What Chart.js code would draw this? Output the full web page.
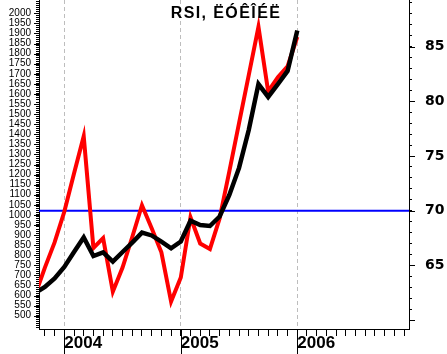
<!DOCTYPE html>
<html><head><meta charset="utf-8">
<script src="https://cdn.jsdelivr.net/npm/chart.js@4.4.0/dist/chart.umd.min.js"></script>
<style>html,body{margin:0;padding:0;background:#fff;overflow:hidden}</style>
</head><body>
<canvas id="c" width="447" height="354"></canvas>
<script>
const titleText = 'RSI, ËÓÊÎÉË';
// month index: 0 = Jan 2004
const months = [-3,-2,-1,0,1,2,3,4,5,6,7,8,9,10,11,12,13,14,15,16,17,18,19,20,21,22,23,24];
const priceSeries = [613,643,685,742,816,888,796,814,768,816,863,912,898,867,834,868,971,950,945,992,1099,1233,1421,1649,1585,1649,1714,1915];
const rsiSeries = [62.3,64.8,67.1,69.9,73.4,76.8,66.6,67.5,62.6,64.8,67.6,70.5,68.4,66.2,61.7,63.9,69.4,67.0,66.5,69.3,73.6,78.0,82.4,86.8,80.9,82.2,83.2,85.9];
const overboughtLevel = 70;
const yearTicks = [0,12,24];
const yearLabels = ['2004','2005','2006'];
const priceLabelValues = [500,550,600,650,700,750,800,850,900,950,1000,1050,1100,1150,1200,1250,1300,1350,1400,1450,1500,1550,1600,1650,1700,1750,1800,1850,1900,1950,2000];
const rsiLabelValues = [65,70,75,80,85];

const X_MIN = -2.606, X_MAX = 35.507;
const L_MIN = 434, L_MAX = 2066;
const R_MIN = 59.19, R_MAX = 89.26;

const extras = {
  id: 'extras',
  afterDraw(chart) {
    const {ctx, chartArea, scales} = chart;
    ctx.save();
    ctx.strokeStyle = '#000';
    ctx.lineWidth = 1;
    ctx.beginPath();
    yearTicks.forEach(v => {
      const px = Math.round(scales.x.getPixelForValue(v)) + 0.5;
      ctx.moveTo(px, chartArea.bottom);
      ctx.lineTo(px, chart.height);
    });
    priceLabelValues.forEach(v => {
      const py = Math.round(scales.yL.getPixelForValue(v)) + 0.5;
      ctx.moveTo(chartArea.left - 5, py);
      ctx.lineTo(chartArea.left, py);
    });
    [60,65,70,75,80,85].forEach(v => {
      const py = Math.round(scales.yR.getPixelForValue(v)) + 0.5;
      ctx.moveTo(chartArea.right, py);
      ctx.lineTo(chartArea.right + 6, py);
    });
    ctx.stroke();
    ctx.fillStyle = '#000';
    ctx.font = 'bold 16px "Liberation Sans", Arial, sans-serif';
    try { ctx.letterSpacing = '1.4px'; } catch(e) {}
    ctx.textAlign = 'center';
    ctx.textBaseline = 'alphabetic';
    ctx.fillText(titleText, 226, 18);
    ctx.restore();
  }
};

const rangeTicks = (a, b, s) => { const t = []; for (let v = a; v <= b + 1e-9; v += s) t.push({value: v}); return t; };

new Chart(document.getElementById('c'), {
  type: 'line',
  data: {
    datasets: [
      {
        label: 'price', data: priceSeries.map((v, i) => ({x: months[i], y: v})),
        yAxisID: 'yL', borderColor: '#000000', borderWidth: 4.5, pointRadius: 0, tension: 0, clip: 0, order: 0
      },
      {
        label: 'rsi', data: rsiSeries.map((v, i) => ({x: months[i], y: v})),
        yAxisID: 'yR', borderColor: '#ff0000', borderWidth: 4, pointRadius: 0, tension: 0, clip: 0, order: 1
      },
      {
        label: 'level', data: [{x: X_MIN, y: overboughtLevel}, {x: X_MAX, y: overboughtLevel}],
        yAxisID: 'yR', borderColor: '#0000ff', borderWidth: 2, pointRadius: 0, tension: 0, clip: 0, order: 2
      }
    ]
  },
  options: {
    responsive: false, animation: false, devicePixelRatio: 1,
    layout: {padding: 0},
    plugins: {legend: {display: false}, tooltip: {enabled: false}, title: {display: false}},
    scales: {
      x: {
        type: 'linear', position: 'bottom', min: X_MIN, max: X_MAX,
        afterBuildTicks: s => { s.ticks = rangeTicks(-2, 35, 1); },
        afterFit: s => { s.height = 25; s.paddingLeft = 0; s.paddingRight = 0; },
        ticks: {
          autoSkip: false, maxRotation: 0, minRotation: 0, align: 'start', padding: -1,
          color: '#000', font: {family: '"Liberation Sans", Arial, sans-serif', size: 17, weight: 'bold', lineHeight: 1},
          callback: v => { const i = yearTicks.indexOf(v); return i >= 0 ? yearLabels[i] : ''; }
        },
        grid: {
          drawOnChartArea: true, drawTicks: true, tickLength: 7,
          color: c => (c.tick && yearTicks.includes(c.tick.value)) ? '#bdbdbd' : 'rgba(0,0,0,0)',
          tickColor: '#000', lineWidth: 1
        },
        border: {display: true, color: '#000', width: 1, dash: [4, 3]}
      },
      yL: {
        type: 'linear', position: 'left', min: L_MIN, max: L_MAX,
        afterBuildTicks: s => { s.ticks = rangeTicks(440, 2060, 10); },
        afterFit: s => { s.width = 39; s.paddingTop = 0; s.paddingBottom = 0; },
        ticks: {
          autoSkip: false, padding: 5,
          color: '#000', font: {family: '"Liberation Sans", Arial, sans-serif', size: 10},
          callback: v => priceLabelValues.includes(v) ? String(v) : ''
        },
        grid: {drawOnChartArea: false, drawTicks: true, tickLength: 3, tickColor: '#000'},
        border: {display: true, color: '#000', width: 1}
      },
      yR: {
        type: 'linear', position: 'right', min: R_MIN, max: R_MAX,
        afterBuildTicks: s => { s.ticks = rangeTicks(60, 89, 1); },
        afterFit: s => { s.width = 38; s.paddingTop = 0; s.paddingBottom = 0; },
        ticks: {
          autoSkip: false, padding: 13,
          color: '#000', font: {family: '"DejaVu Sans", sans-serif', size: 14, weight: 'bold'},
          callback: v => rsiLabelValues.includes(v) ? String(v) : ''
        },
        grid: {drawOnChartArea: false, drawTicks: true, tickLength: 3, tickColor: '#000'},
        border: {display: true, color: '#000', width: 1}
      }
    }
  },
  plugins: [extras]
});
</script>
</body></html>
